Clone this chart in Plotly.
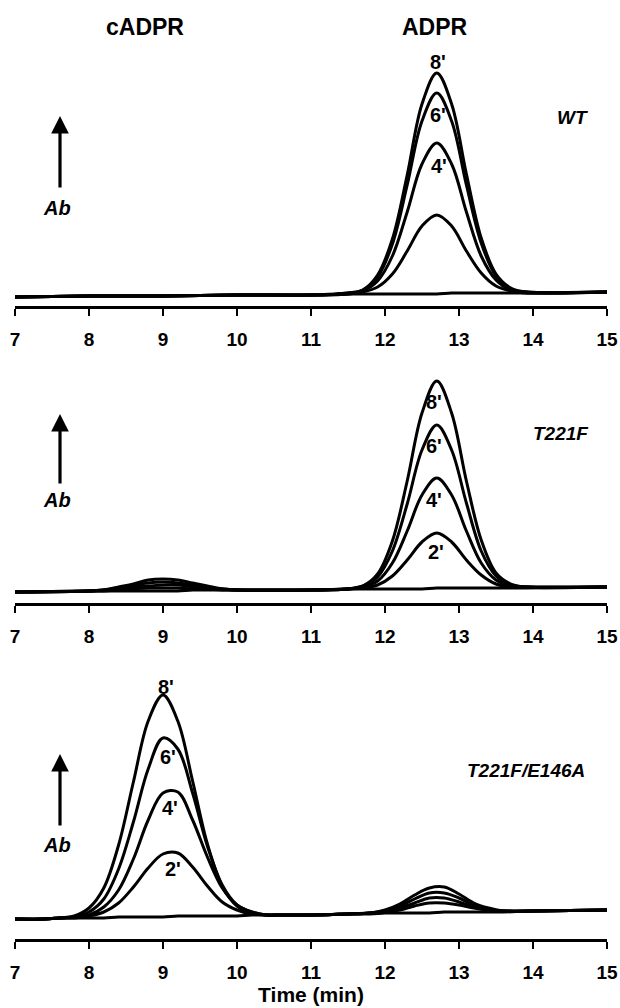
import plotly.graph_objects as go

# ---------------- data ----------------
# Panel 1: WT  (absorbance in arbitrary units above the start of the baseline)
TIME_WT = [7, 8, 9, 10, 11, 11.5, 11.7, 11.9, 12.1, 12.3, 12.5, 12.7, 12.9,
           13.1, 13.3, 13.5, 13.7, 13.9, 15]
WT_8 = [0, 1, 1, 2, 2, 4, 7, 22, 58, 122, 193, 224, 193, 123, 59, 23, 9, 5, 5]
WT_6 = [0, 1, 1, 2, 2, 4, 7, 20, 53, 112, 176, 204, 176, 112, 54, 21, 8, 5, 5]
WT_4 = [0, 1, 1, 2, 2, 3, 6, 16, 41, 85, 133, 154, 133, 85, 41, 17, 7, 5, 5]
WT_2 = [0, 1, 1, 2, 2, 3, 5, 10, 23, 46, 71, 82, 71, 46, 24, 11, 6, 4, 5]
WT_0 = [0, 1, 1, 2, 2, 3, 3, 3, 3, 3, 3, 3, 4, 4, 4, 4, 4, 4, 5]

# Panel 2: T221F
TIME_T = [7, 8.0, 8.2, 8.4, 8.6, 8.8, 9.0, 9.2, 9.4, 9.6, 9.8, 10.0, 11,
          11.5, 11.7, 11.9, 12.1, 12.3, 12.5, 12.7, 12.9, 13.1, 13.3, 13.5,
          13.7, 13.9, 15]
T_8 = [0, 1, 2, 5, 8, 12, 13, 12, 9, 6, 3, 2, 2,
       3, 6, 18, 51, 111, 179, 211, 179, 111, 52, 19, 8, 5, 5]
T_6 = [0, 1, 2, 4, 7, 9, 10, 9, 7, 5, 3, 2, 2,
       3, 6, 15, 41, 88, 142, 167, 142, 89, 41, 16, 7, 5, 5]
T_4 = [0, 1, 2, 3, 5, 6, 7, 7, 5, 4, 3, 2, 2,
       3, 5, 11, 29, 61, 97, 114, 97, 61, 29, 12, 6, 5, 5]
T_2 = [0, 1, 1, 2, 3, 4, 4, 4, 3, 3, 2, 2, 2,
       3, 4, 7, 16, 32, 50, 59, 50, 32, 17, 8, 5, 5, 5]
T_0 = [0, 1, 1, 1, 1, 1, 1, 1, 2, 2, 2, 2, 2,
       3, 3, 3, 3, 3, 3, 4, 4, 4, 4, 4, 4, 4, 5]

# Panel 3: T221F/E146A
TIME_E = [7, 7.4, 7.6, 7.8, 8.0, 8.2, 8.4, 8.6, 8.8, 9.0, 9.2, 9.4, 9.6, 9.8,
          10.0, 10.2, 10.4, 10.6, 11, 11.5, 11.8, 12.0, 12.2, 12.4, 12.6,
          12.8, 13.0, 13.2, 13.4, 13.6, 14, 15]
E_8 = [0, 0, 1, 3, 11, 31, 74, 137, 198, 224, 198, 138, 75, 33, 13, 6, 4, 4,
       4, 5, 6, 9, 15, 24, 31, 32, 25, 16, 11, 8, 8, 9]
E_6 = [0, 0, 1, 2, 7, 20, 50, 97, 150, 181, 170, 126, 73, 34, 14, 7, 4, 4,
       4, 5, 6, 8, 13, 20, 26, 26, 21, 14, 10, 8, 8, 9]
E_4 = [0, 0, 1, 2, 4, 12, 29, 60, 99, 126, 127, 99, 62, 31, 14, 7, 4, 4,
       4, 5, 6, 8, 11, 16, 21, 21, 17, 12, 9, 8, 8, 9]
E_2 = [0, 0, 1, 1, 3, 7, 16, 32, 51, 65, 66, 52, 33, 17, 9, 5, 4, 4,
       4, 5, 6, 7, 9, 13, 16, 16, 14, 11, 9, 8, 8, 9]
E_0 = [0, 0, 1, 1, 1, 1, 2, 2, 2, 2, 3, 3, 3, 3, 3, 4, 4, 4,
       4, 5, 5, 6, 6, 6, 6, 7, 7, 7, 7, 7, 8, 9]

TICKS = [7, 8, 9, 10, 11, 12, 13, 14, 15]
PANEL_NAMES = ["WT", "T221F", "T221F/E146A"]
PEAK_NAMES = ["cADPR", "ADPR"]
TIME_LABELS = ["8'", "6'", "4'", "2'"]

# ---------------- figure ----------------
W, H = 620, 1008


def px(x):
    return x / W


def py(y):
    return 1 - y / H


FONT = "Liberation Sans, Arial, sans-serif"

fig = go.Figure()

panels = [
    (TIME_WT, [WT_0, WT_2, WT_4, WT_6, WT_8]),
    (TIME_T, [T_0, T_2, T_4, T_6, T_8]),
    (TIME_E, [E_0, E_2, E_4, E_6, E_8]),
]
for i, (tx, series) in enumerate(panels):
    ax = "" if i == 0 else str(i + 1)
    for s in series:
        fig.add_trace(go.Scatter(
            x=tx, y=s, mode="lines", xaxis="x" + ax, yaxis="y" + ax,
            line=dict(color="black", width=3, shape="spline", smoothing=1.0),
            showlegend=False, hoverinfo="skip"))

# panel geometry: (axis line px, top px, baseline offset in units)
geom = [(306, 60, 9), (603, 370, 11), (939, 680, 20)]
layout = dict(
    width=W, height=H, margin=dict(l=0, r=0, t=0, b=0, pad=0),
    paper_bgcolor="white", plot_bgcolor="white", showlegend=False,
)
for i, (bot, top, off) in enumerate(geom):
    k = "" if i == 0 else str(i + 1)
    span = bot - top
    layout["xaxis" + k] = dict(
        domain=[px(15), px(607)], range=[7, 15], anchor="y" + k,
        tickvals=TICKS, ticktext=[str(t) for t in TICKS],
        showline=True, linecolor="black", linewidth=2.5,
        ticks="outside", ticklen=7, tickwidth=2.2, tickcolor="black",
        showgrid=False, zeroline=False, automargin=False,
        tickfont=dict(family=FONT, size=19, color="black", weight="bold"),
        ticklabelstandoff=8,
    )
    layout["yaxis" + k] = dict(
        domain=[py(bot), py(top)], range=[-off, span - off], anchor="x" + k,
        visible=False, fixedrange=True,
    )
layout["xaxis3"]["title"] = dict(
    text="Time (min)", standoff=0,
    font=dict(family=FONT, size=21, color="black", weight="bold"))
fig.update_layout(**layout)

ann = []


def txt(t, x, y, size, italic=False):
    ann.append(dict(text=t, x=px(x), y=py(y), xref="paper", yref="paper",
                    showarrow=False, xanchor="center", yanchor="middle",
                    font=dict(family=FONT, size=size, color="black",
                              weight="bold",
                              style="italic" if italic else "normal")))


# compound headers
txt(PEAK_NAMES[0], 145, 27, 23)
txt(PEAK_NAMES[1], 435, 27, 23)

# panel names
txt(PANEL_NAMES[0], 572, 117, 19, italic=True)
txt(PANEL_NAMES[1], 561, 433, 19, italic=True)
txt(PANEL_NAMES[2], 526, 770, 19, italic=True)

# time labels
txt(TIME_LABELS[0], 438, 62, 20)
txt(TIME_LABELS[1], 438, 115, 20)
txt(TIME_LABELS[2], 439, 166, 20)

txt(TIME_LABELS[0], 434, 402, 20)
txt(TIME_LABELS[1], 434, 446, 20)
txt(TIME_LABELS[2], 434, 500, 20)
txt(TIME_LABELS[3], 436, 552, 20)

txt(TIME_LABELS[0], 166, 687, 20)
txt(TIME_LABELS[1], 168, 757, 20)
txt(TIME_LABELS[2], 170, 808, 20)
txt(TIME_LABELS[3], 173, 869, 20)

# absorbance arrows + "Ab"
for tip, tail, ablab in [(116, 189, 208), (414, 485, 500), (754, 827, 845)]:
    ann.append(dict(x=px(60), y=py(tip), xref="paper", yref="paper",
                    ax=0, ay=tail - tip, axref="pixel", ayref="pixel",
                    text="", showarrow=True, arrowhead=2, arrowsize=1.1,
                    arrowwidth=3.2, arrowcolor="black", standoff=0,
                    startstandoff=0))
    txt("Ab", 57, ablab, 20, italic=True)

fig.update_layout(annotations=ann)
fig.write_html(
    "out.html",
    config={"displayModeBar": False, "staticPlot": True},
    post_script="document.body.style.margin='0';"
                "document.body.style.overflow='hidden';",
)
